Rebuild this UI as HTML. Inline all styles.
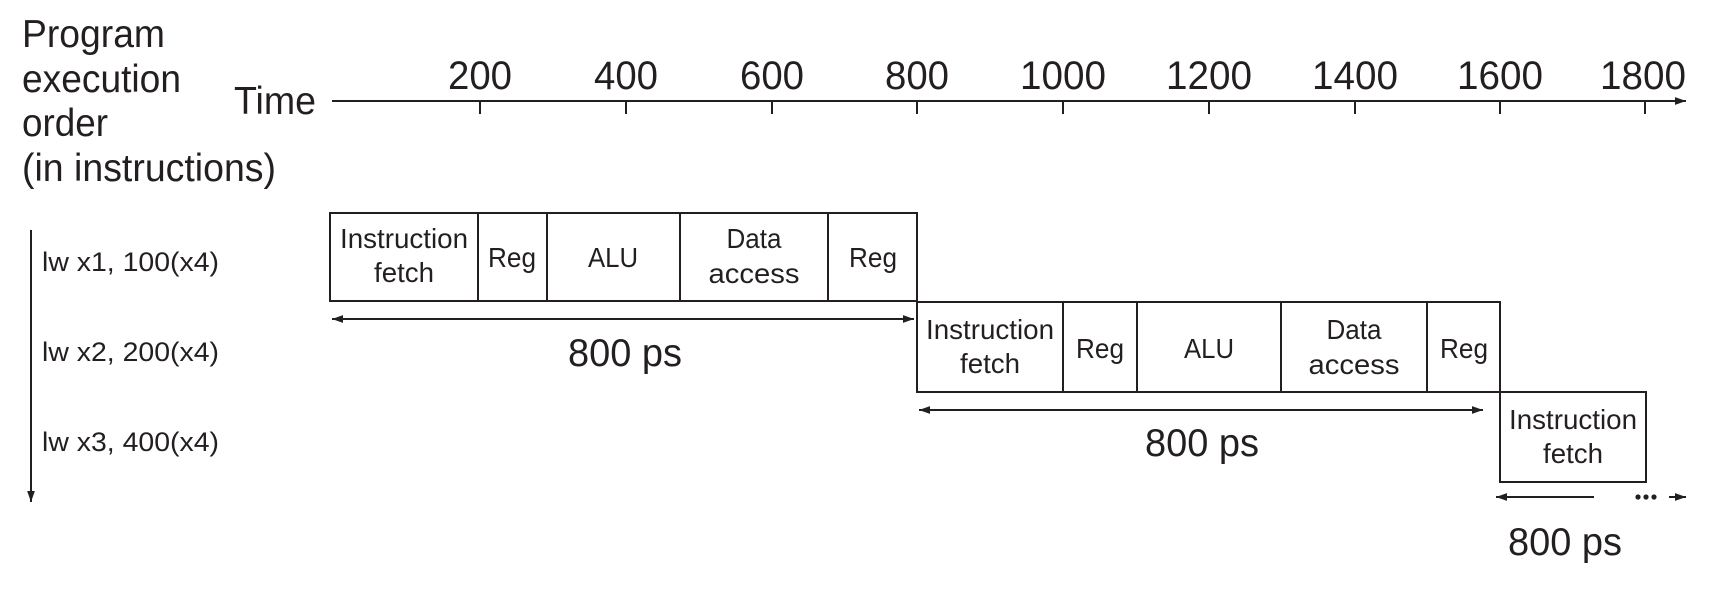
<!DOCTYPE html>
<html><head><meta charset="utf-8"><style>
html,body{margin:0;padding:0;background:#fff;width:1720px;height:593px;overflow:hidden}
svg{display:block}
text{font-family:"Liberation Sans",Arial,sans-serif;fill:#231f20}
</style></head><body>
<svg width="1720" height="593" viewBox="0 0 1720 593" xmlns="http://www.w3.org/2000/svg">
<defs>
<marker id="ah" viewBox="0 0 10 10" refX="10" refY="5" markerWidth="11" markerHeight="11" markerUnits="userSpaceOnUse" orient="auto-start-reverse"><path d="M0,1.5 L10,5 L0,8.5 z" fill="#231f20"/></marker>
</defs>
<g font-size="39">
<text x="22" y="47" textLength="143" lengthAdjust="spacingAndGlyphs">Program</text>
<text x="22" y="92" textLength="159" lengthAdjust="spacingAndGlyphs">execution</text>
<text x="22" y="136" textLength="86" lengthAdjust="spacingAndGlyphs">order</text>
<text x="22" y="181" textLength="254" lengthAdjust="spacingAndGlyphs">(in instructions)</text>
<text x="234" y="114" textLength="82" lengthAdjust="spacingAndGlyphs">Time</text>
</g>
<g stroke="#231f20" stroke-width="2" fill="none">
<line x1="332" y1="101" x2="1686" y2="101" marker-end="url(#ah)"/>
<line x1="480" y1="101" x2="480" y2="114"/><line x1="626" y1="101" x2="626" y2="114"/>
<line x1="772" y1="101" x2="772" y2="114"/><line x1="917" y1="101" x2="917" y2="114"/>
<line x1="1063" y1="101" x2="1063" y2="114"/><line x1="1209" y1="101" x2="1209" y2="114"/>
<line x1="1355" y1="101" x2="1355" y2="114"/><line x1="1500" y1="101" x2="1500" y2="114"/>
<line x1="1645" y1="101" x2="1645" y2="114"/>
</g>
<g font-size="40" text-anchor="middle">
<text x="480" y="89" textLength="64" lengthAdjust="spacingAndGlyphs">200</text>
<text x="626" y="89" textLength="64" lengthAdjust="spacingAndGlyphs">400</text>
<text x="772" y="89" textLength="64" lengthAdjust="spacingAndGlyphs">600</text>
<text x="917" y="89" textLength="64" lengthAdjust="spacingAndGlyphs">800</text>
<text x="1063" y="89" textLength="86" lengthAdjust="spacingAndGlyphs">1000</text>
<text x="1209" y="89" textLength="86" lengthAdjust="spacingAndGlyphs">1200</text>
<text x="1355" y="89" textLength="86" lengthAdjust="spacingAndGlyphs">1400</text>
<text x="1500" y="89" textLength="86" lengthAdjust="spacingAndGlyphs">1600</text>
<text x="1643" y="89" textLength="86" lengthAdjust="spacingAndGlyphs">1800</text>
</g>
<line x1="31" y1="230" x2="31" y2="502" stroke="#231f20" stroke-width="2" marker-end="url(#ah)"/>
<g font-size="27">
<text x="42" y="271" textLength="177" lengthAdjust="spacingAndGlyphs">lw x1, 100(x4)</text>
<text x="42" y="361" textLength="177" lengthAdjust="spacingAndGlyphs">lw x2, 200(x4)</text>
<text x="42" y="451" textLength="177" lengthAdjust="spacingAndGlyphs">lw x3, 400(x4)</text>
</g>
<g stroke="#231f20" stroke-width="2" fill="none">
<rect x="330" y="213" width="587" height="88"/>
<line x1="478" y1="213" x2="478" y2="301"/><line x1="547" y1="213" x2="547" y2="301"/>
<line x1="680" y1="213" x2="680" y2="301"/><line x1="828" y1="213" x2="828" y2="301"/>
<rect x="917" y="302" width="583" height="90"/>
<line x1="1063" y1="302" x2="1063" y2="392"/><line x1="1137" y1="302" x2="1137" y2="392"/>
<line x1="1281" y1="302" x2="1281" y2="392"/><line x1="1427" y1="302" x2="1427" y2="392"/>
<rect x="1500" y="392" width="146" height="90"/>
<line x1="332" y1="319" x2="914" y2="319" marker-start="url(#ah)" marker-end="url(#ah)"/>
<line x1="919" y1="410" x2="1483" y2="410" marker-start="url(#ah)" marker-end="url(#ah)"/>
<line x1="1496" y1="497" x2="1594" y2="497" marker-start="url(#ah)"/>
<line x1="1669" y1="497" x2="1686" y2="497" marker-end="url(#ah)"/>
</g>
<g fill="#231f20"><circle cx="1638" cy="497" r="2.6"/><circle cx="1646" cy="497" r="2.6"/><circle cx="1654" cy="497" r="2.6"/></g>
<g font-size="28" text-anchor="middle">
<text x="404" y="248" textLength="128" lengthAdjust="spacingAndGlyphs">Instruction</text>
<text x="404" y="282" textLength="60" lengthAdjust="spacingAndGlyphs">fetch</text>
<text x="512" y="267" textLength="48" lengthAdjust="spacingAndGlyphs">Reg</text>
<text x="613" y="267" textLength="50" lengthAdjust="spacingAndGlyphs">ALU</text>
<text x="754" y="248" textLength="55" lengthAdjust="spacingAndGlyphs">Data</text>
<text x="754" y="283" textLength="91" lengthAdjust="spacingAndGlyphs">access</text>
<text x="873" y="267" textLength="48" lengthAdjust="spacingAndGlyphs">Reg</text>

<text x="990" y="339" textLength="128" lengthAdjust="spacingAndGlyphs">Instruction</text>
<text x="990" y="373" textLength="60" lengthAdjust="spacingAndGlyphs">fetch</text>
<text x="1100" y="358" textLength="48" lengthAdjust="spacingAndGlyphs">Reg</text>
<text x="1209" y="358" textLength="50" lengthAdjust="spacingAndGlyphs">ALU</text>
<text x="1354" y="339" textLength="55" lengthAdjust="spacingAndGlyphs">Data</text>
<text x="1354" y="374" textLength="91" lengthAdjust="spacingAndGlyphs">access</text>
<text x="1464" y="358" textLength="48" lengthAdjust="spacingAndGlyphs">Reg</text>

<text x="1573" y="429" textLength="128" lengthAdjust="spacingAndGlyphs">Instruction</text>
<text x="1573" y="463" textLength="60" lengthAdjust="spacingAndGlyphs">fetch</text>
</g>
<g font-size="39" text-anchor="middle">
<text x="625" y="366" textLength="114" lengthAdjust="spacingAndGlyphs">800 ps</text>
<text x="1202" y="456" textLength="114" lengthAdjust="spacingAndGlyphs">800 ps</text>
<text x="1565" y="555" textLength="114" lengthAdjust="spacingAndGlyphs">800 ps</text>
</g>
</svg>
</body></html>
